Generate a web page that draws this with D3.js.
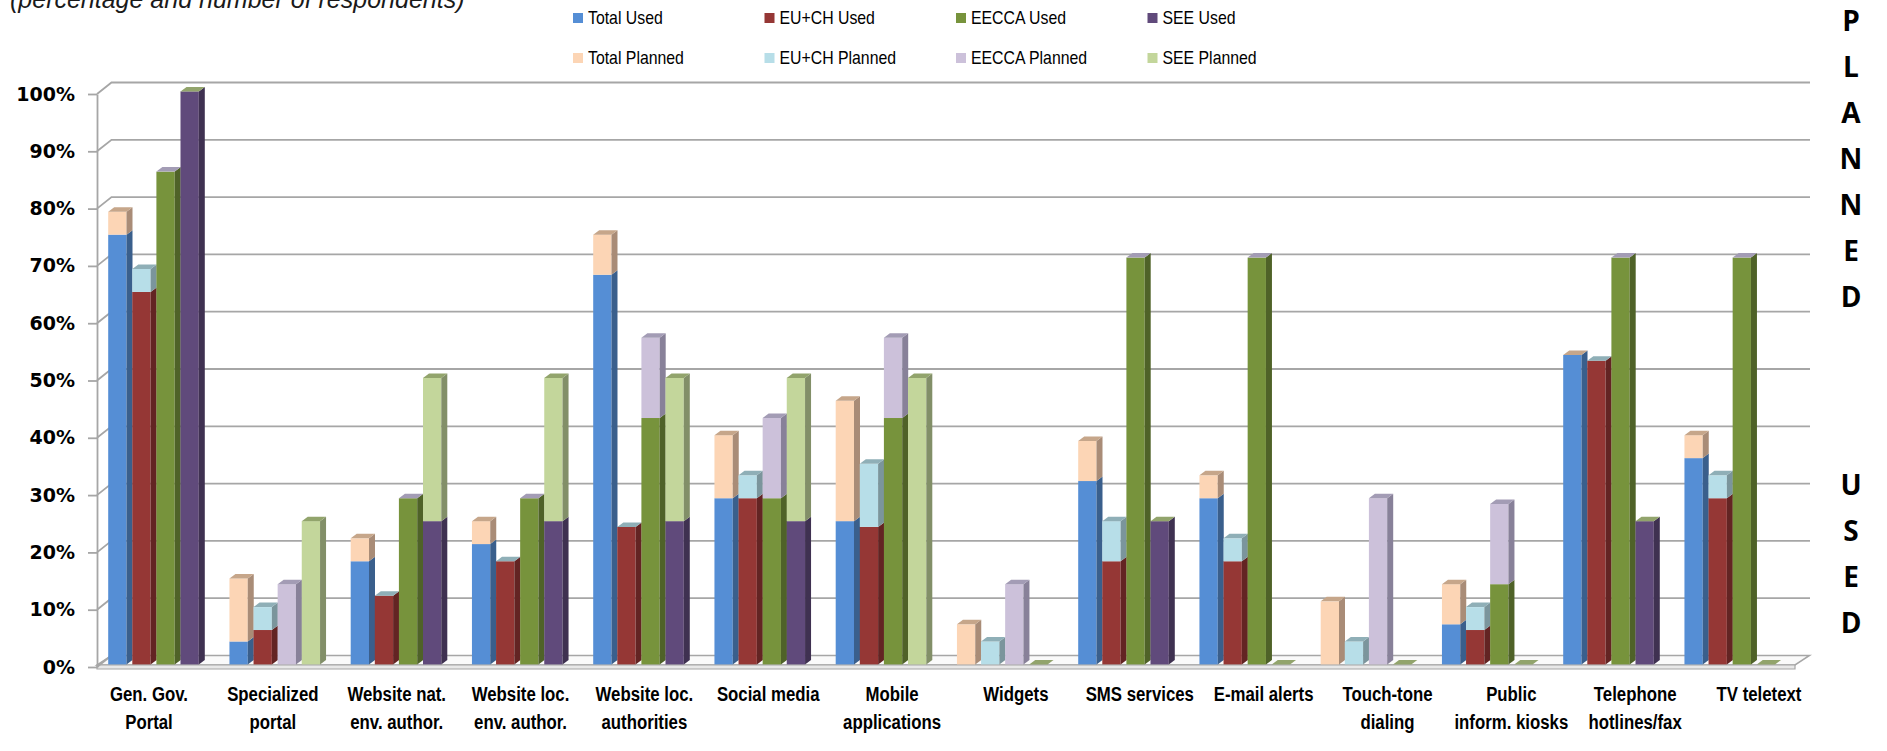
<!DOCTYPE html>
<html><head><meta charset="utf-8">
<script src="https://cdn.jsdelivr.net/npm/d3@7"></script>
<style>body{margin:0;background:#fff;} svg{display:block;}</style>
</head><body><svg id="chart" width="1887" height="751"></svg>
<script>
// ---------------- data ----------------
const titleText = "(percentage and number of respondents)";
const categories = ["Gen. Gov. Portal","Specialized portal","Website nat. env. author.","Website loc. env. author.","Website loc. authorities","Social media","Mobile applications","Widgets","SMS services","E-mail alerts","Touch-tone dialing","Public inform. kiosks","Telephone hotlines/fax","TV teletext"];
const categoryLines = [["Gen. Gov.","Portal"],["Specialized","portal"],["Website nat.","env. author."],["Website loc.","env. author."],["Website loc.","authorities"],["Social media"],["Mobile","applications"],["Widgets"],["SMS services"],["E-mail alerts"],["Touch-tone","dialing"],["Public","inform. kiosks"],["Telephone","hotlines/fax"],["TV teletext"]];
const groups = ["Total","EU+CH","EECCA","SEE"];
const totalUsed    = [75, 4,18,21,68,29,25, 0,32,29, 0, 7,54,36];
const totalPlanned = [ 4,11, 4, 4, 7,11,21, 7, 7, 4,11, 7, 0, 4];
const euUsed       = [65, 6,12,18,24,29,24, 0,18,18, 0, 6,53,29];
const euPlanned    = [ 4, 4, 0, 0, 0, 4,11, 4, 7, 4, 4, 4, 0, 4];
const eeccaUsed    = [86, 0,29,29,43,29,43, 0,71,71, 0,14,71,71];
const eeccaPlanned = [ 0,14, 0, 0,14,14,14,14, 0, 0,29,14, 0, 0];
const seeUsed      = [100,0,25,25,25,25, 0, 0,25, 0, 0, 0,25, 0];
const seePlanned   = [ 0,25,25,25,25,25,50, 0, 0, 0, 0, 0, 0, 0];
const yTicks = [0,10,20,30,40,50,60,70,80,90,100];
const legendUsed = ["Total Used","EU+CH Used","EECCA Used","SEE Used"];
const legendPlanned = ["Total Planned","EU+CH Planned","EECCA Planned","SEE Planned"];
const sideWordTop = "PLANNED";
const sideWordBottom = "USED";

// ---------------- styles ----------------
const usedFront    = ["#558ED5","#953735","#77933C","#604A7B"];
const usedSide     = ["#3A5F8C","#632423","#4F6228","#3F3151"];
const plannedFront = ["#FCD5B5","#B7DEE8","#CCC1DA","#C3D69B"];
const plannedSide  = ["#A98C77","#7B959C","#888199","#828F68"];
const plannedTop   = ["#C6A68A","#8FAFB7","#A39CB5","#92A46C"];
const usedArr = [totalUsed, euUsed, eeccaUsed, seeUsed];
const plannedArr = [totalPlanned, euPlanned, eeccaPlanned, seePlanned];

const svg = d3.select("#chart");
const yF = d3.scaleLinear().domain([0,100]).range([667,94]);
const WALL = {dx:14.5, dy:-11.5};
const PLANE = {dx:3.3, dy:-2.6};
const DEPTH = {dx:6, dy:-4.5};
const floorX = [97, 1795];
const gridRight = 1810;
const gridColor = "#A6A6A6";

const xBar = d3.scaleBand().domain(categories).range([104.9, 1802.4]);
const xSeries = d3.scaleBand().domain(groups).range([0, 90.6]).paddingInner(0.2407).paddingOuter(0);
const xLabel = d3.scalePoint().domain(categories).range([149, 1759]);
const yB = v => yF(v) + PLANE.dy;

// title
svg.append("text").attr("x",10).attr("y",8)
  .attr("font-family","'Liberation Sans', Arial, sans-serif").attr("font-style","italic")
  .attr("font-size",25).attr("fill","#1a1a1a").text(titleText);

// floor
const fTop = yF(0) - 2, fBot = yF(0) + 2;
svg.append("polygon")
  .attr("points", [[floorX[0],fTop],[floorX[1],fTop],[floorX[1]+WALL.dx,yF(0)+WALL.dy],[floorX[0]+WALL.dx,yF(0)+WALL.dy]].map(p=>p.join(",")).join(" "))
  .attr("fill","#FAFAFA").attr("stroke",gridColor).attr("stroke-width",1.5);
svg.append("polygon")
  .attr("points", [[floorX[0],fTop],[floorX[1],fTop],[floorX[1],fBot],[floorX[0],fBot]].map(p=>p.join(",")).join(" "))
  .attr("fill","#E8E8E8").attr("stroke",gridColor).attr("stroke-width",1.2);

// gridlines (side wall diagonal + back wall)
svg.append("g").selectAll("path").data(yTicks.slice(1)).join("path")
  .attr("d", v => `M${floorX[0]},${yF(v)} L${floorX[0]+WALL.dx},${yF(v)+WALL.dy} L${gridRight},${yF(v)+WALL.dy}`)
  .attr("fill","none").attr("stroke",gridColor).attr("stroke-width",1.8);
svg.append("path")
  .attr("d", `M${floorX[0]},${yF(0)} L${floorX[0]+WALL.dx},${yF(0)+WALL.dy}`)
  .attr("stroke",gridColor).attr("stroke-width",1.8);

// y axis
const yAxis = svg.append("g").attr("transform",`translate(${floorX[0]},0)`)
  .call(d3.axisLeft(yF).tickValues(yTicks).tickFormat(d=>d+"%").tickSize(9).tickSizeOuter(0).tickPadding(13));
yAxis.select(".domain").attr("stroke",gridColor).attr("stroke-width",1.8);
yAxis.selectAll(".tick line").attr("stroke",gridColor).attr("stroke-width",1.8);
yAxis.selectAll(".tick text").attr("font-family","'DejaVu Sans', Verdana, sans-serif")
  .attr("font-weight","bold").attr("font-size",19).attr("fill","#000");

// bars
const bars = [];
categories.forEach((c,i) => groups.forEach((g,j) => {
  bars.push({c, j, used: usedArr[j][i], planned: plannedArr[j][i]});
}));
const pts = a => a.map(p=>p.join(",")).join(" ");
const barG = svg.append("g");
bars.forEach(b => {
  const x0 = xBar(b.c) + PLANE.dx + xSeries(groups[b.j]);
  const w = xSeries.bandwidth();
  const g = barG.append("g");
  const segs = [
    {from:0, to:b.used, front:usedFront[b.j], side:usedSide[b.j]},
    {from:b.used, to:b.used+b.planned, front:plannedFront[b.j], side:plannedSide[b.j]}
  ].filter(s => s.to > s.from);
  segs.forEach(s => {
    const yt = yB(s.to), yb = yB(s.from);
    g.append("rect").attr("x",x0).attr("y",yt).attr("width",w).attr("height",yb-yt).attr("fill",s.front);
    g.append("polygon").attr("points", pts([[x0+w,yt],[x0+w+DEPTH.dx,yt+DEPTH.dy],[x0+w+DEPTH.dx,yb+DEPTH.dy],[x0+w,yb]]))
      .attr("fill",s.side);
  });
  const ytop = yB(b.used + b.planned);
  g.append("polygon").attr("points", pts([[x0,ytop],[x0+DEPTH.dx,ytop+DEPTH.dy],[x0+w+DEPTH.dx,ytop+DEPTH.dy],[x0+w,ytop]]))
    .attr("fill",plannedTop[b.j]);
});

// category labels
const catG = svg.append("g").attr("font-family","'Liberation Sans', Arial, sans-serif")
  .attr("font-size",21).attr("font-weight","bold").attr("fill","#000").attr("text-anchor","middle");
categories.forEach((c,i) => {
  categoryLines[i].forEach((line,k) => {
    catG.append("text").attr("transform",`translate(${xLabel(c)},${694 + k*28}) scale(0.8,1)`)
      .attr("dy","0.35em").text(line);
  });
});

// legend
const legG = svg.append("g").attr("font-family","'Liberation Sans', Arial, sans-serif").attr("font-size",18).attr("fill","#000");
[legendUsed, legendPlanned].forEach((row, r) => {
  row.forEach((name, j) => {
    const lx = 573 + j*191.5, ly = 18 + r*40;
    legG.append("rect").attr("x",lx).attr("y",ly-5).attr("width",10).attr("height",10)
      .attr("fill", r===0 ? usedFront[j] : plannedFront[j]);
    legG.append("text").attr("transform",`translate(${lx+15},${ly}) scale(0.88,1)`).attr("dy","0.35em").text(name);
  });
});

// side words
const sideG = svg.append("g").attr("font-family","'Open Sans','Liberation Sans',sans-serif")
  .attr("font-weight","bold").attr("font-size",28).attr("fill","#000").attr("text-anchor","middle");
sideWordTop.split("").forEach((ch,k) => sideG.append("text").attr("x",1851).attr("y",21 + k*46).attr("dy","0.35em").text(ch));
sideWordBottom.split("").forEach((ch,k) => sideG.append("text").attr("x",1851).attr("y",485 + k*46).attr("dy","0.35em").text(ch));
</script>
</body></html>
